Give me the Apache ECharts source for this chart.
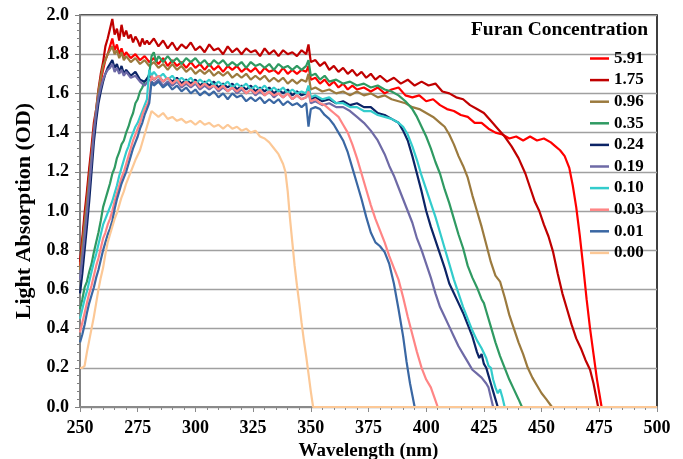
<!DOCTYPE html>
<html>
<head>
<meta charset="utf-8">
<script src="https://cdn.jsdelivr.net/npm/echarts@6/dist/echarts.min.js"></script>
<style>
  html, body { margin: 0; padding: 0; background: #fff; }
  #main { width: 683px; height: 459px; }
</style>
</head>
<body>
<div id="main"></div>
<script>
// legend labels, furan concentration
const concentrations = ['5.91', '1.75', '0.96', '0.35', '0.24', '0.19', '0.10', '0.03', '0.01', '0.00'];
const xTicks = [250, 275, 300, 325, 350, 375, 400, 425, 450, 475, 500];
const yTicks = [0, 0.2, 0.4, 0.6, 0.8, 1.0, 1.2, 1.4, 1.6, 1.8, 2.0];

// [wavelength nm, absorption OD]
const c591 = [[250,0.72],[251,0.84],[252,0.96],[253,1.07],[254,1.19],[255,1.30],[256,1.41],[257,1.50],[258,1.58],[259,1.66],[260,1.72],[261,1.77],[262,1.80],[263,1.84],[264,1.88],[265,1.82],[266,1.85],[267,1.80],[268,1.83],[269,1.79],[270,1.81],[272,1.78],[274,1.80],[276,1.77],[278,1.79],[280,1.76],[282,1.78],[284,1.75],[286,1.78],[288,1.74],[290,1.77],[292,1.74],[294,1.76],[296,1.73],[298,1.76],[300,1.73],[302,1.75],[304,1.72],[306,1.75],[308,1.72],[310,1.74],[312,1.71],[314,1.74],[316,1.72],[318,1.74],[320,1.71],[322,1.73],[324,1.71],[326,1.73],[328,1.70],[330,1.73],[332,1.71],[334,1.72],[336,1.70],[338,1.73],[340,1.70],[342,1.72],[344,1.70],[346,1.72],[348,1.71],[349,1.74],[350,1.67],[352,1.68],[354,1.65],[356,1.67],[358,1.64],[360,1.66],[362,1.63],[364,1.65],[366,1.62],[368,1.64],[370,1.62],[373,1.63],[376,1.61],[379,1.63],[382,1.60],[385,1.62],[388,1.63],[391,1.59],[394,1.58],[397,1.59],[400,1.56],[403,1.57],[406,1.54],[409,1.52],[412,1.51],[415,1.49],[418,1.48],[421,1.45],[424,1.45],[427,1.42],[430,1.40],[433,1.39],[436,1.37],[439,1.38],[442,1.36],[445,1.38],[448,1.36],[451,1.37],[454,1.35],[456,1.33],[458,1.31],[460,1.28],[462,1.22],[463.5,1.13],[465,1.02],[466.5,0.88],[468,0.72],[469.5,0.55],[471,0.40],[472.5,0.27],[474,0.14],[475,0.07],[476,0]];

const c175 = [[250,0.74],[251,0.86],[252,0.99],[253,1.10],[254,1.22],[255,1.33],[256,1.45],[257,1.52],[258,1.62],[259,1.70],[260,1.76],[261,1.84],[262,1.88],[263,1.93],[264,1.98],[265,1.90],[266,1.93],[267,1.87],[268,1.95],[269,1.89],[270,1.92],[271,1.88],[272,1.90],[273,1.86],[274,1.89],[275,1.87],[276,1.84],[277,1.88],[278,1.85],[279,1.87],[280,1.85],[282,1.88],[284,1.84],[286,1.87],[288,1.83],[290,1.86],[292,1.82],[294,1.85],[296,1.83],[298,1.86],[300,1.82],[302,1.84],[304,1.81],[306,1.85],[308,1.82],[310,1.83],[312,1.80],[314,1.84],[316,1.81],[318,1.83],[320,1.80],[322,1.83],[324,1.81],[326,1.82],[328,1.79],[330,1.83],[332,1.80],[334,1.82],[336,1.79],[338,1.82],[340,1.80],[342,1.81],[344,1.79],[346,1.82],[348,1.80],[349,1.85],[350,1.76],[352,1.77],[354,1.74],[356,1.76],[358,1.72],[360,1.74],[362,1.71],[364,1.73],[366,1.70],[368,1.72],[370,1.69],[372,1.71],[374,1.68],[376,1.70],[378,1.67],[380,1.69],[383,1.66],[386,1.68],[389,1.65],[392,1.67],[395,1.64],[398,1.66],[401,1.64],[404,1.65],[407,1.61],[410,1.60],[413,1.58],[416,1.57],[419,1.54],[422,1.52],[425,1.50],[428,1.46],[431,1.42],[434,1.38],[437,1.33],[440,1.27],[443,1.19],[445,1.12],[447,1.05],[449,1.00],[451,0.93],[453,0.87],[455,0.79],[457,0.68],[459,0.58],[461,0.50],[463,0.42],[465,0.35],[467,0.30],[469,0.24],[471,0.19],[472.5,0.12],[473.5,0.06],[474.5,0]];

const c096 = [[250,0.70],[251,0.82],[252,0.94],[253,1.05],[254,1.17],[255,1.29],[256,1.41],[257,1.52],[258,1.61],[259,1.68],[260,1.74],[261,1.77],[262,1.80],[263,1.82],[264,1.84],[265,1.80],[266,1.82],[267,1.78],[268,1.81],[269,1.77],[270,1.79],[272,1.76],[274,1.78],[276,1.75],[278,1.77],[280,1.74],[282,1.76],[284,1.73],[286,1.75],[288,1.72],[290,1.75],[292,1.72],[294,1.74],[296,1.71],[298,1.73],[300,1.70],[302,1.72],[304,1.70],[306,1.72],[308,1.69],[310,1.71],[312,1.69],[314,1.71],[316,1.68],[318,1.70],[320,1.68],[322,1.70],[324,1.67],[326,1.69],[328,1.67],[330,1.69],[332,1.66],[334,1.68],[336,1.66],[338,1.68],[340,1.65],[342,1.67],[344,1.65],[346,1.67],[348,1.66],[349,1.70],[350,1.62],[352,1.63],[355,1.61],[358,1.62],[361,1.60],[364,1.61],[367,1.59],[370,1.61],[373,1.59],[376,1.60],[379,1.58],[382,1.59],[385,1.57],[388,1.56],[391,1.55],[394,1.53],[397,1.52],[400,1.50],[403,1.48],[406,1.45],[408,1.43],[410,1.39],[412,1.34],[414,1.28],[416,1.23],[418,1.17],[420,1.08],[422,1.00],[424,0.92],[426,0.83],[428,0.74],[430,0.67],[432,0.64],[434,0.56],[436,0.47],[438,0.40],[440,0.33],[442,0.27],[444,0.20],[446,0.15],[448,0.11],[450,0.07],[452,0.04],[454.5,0]];

const c035 = [[250,0.50],[251,0.55],[252,0.61],[253,0.64],[254,0.69],[255,0.73],[256,0.79],[257,0.84],[258,0.89],[259,0.95],[260,1.02],[261,1.06],[262,1.10],[263,1.14],[264,1.19],[265,1.22],[266,1.27],[267,1.30],[268,1.34],[269,1.36],[270,1.40],[271,1.43],[272,1.47],[273,1.50],[274,1.55],[275,1.57],[276,1.61],[277,1.63],[278,1.66],[279,1.67],[280,1.70],[281,1.79],[282,1.81],[283,1.76],[284,1.79],[286,1.76],[288,1.79],[290,1.76],[292,1.78],[294,1.75],[296,1.78],[298,1.76],[300,1.78],[302,1.75],[304,1.77],[306,1.74],[308,1.77],[310,1.75],[312,1.77],[314,1.74],[316,1.76],[318,1.74],[320,1.76],[322,1.73],[324,1.76],[326,1.74],[328,1.75],[330,1.73],[332,1.75],[334,1.72],[336,1.75],[338,1.73],[340,1.74],[342,1.72],[344,1.74],[346,1.72],[348,1.74],[349,1.77],[350,1.69],[352,1.70],[354,1.67],[356,1.69],[358,1.66],[361,1.67],[364,1.65],[367,1.66],[370,1.64],[373,1.65],[376,1.63],[379,1.64],[382,1.62],[385,1.61],[388,1.59],[391,1.56],[394,1.52],[396,1.48],[398,1.43],[400,1.38],[402,1.32],[404,1.25],[406,1.19],[408,1.11],[410,1.04],[412,0.96],[414,0.88],[416,0.81],[418,0.72],[420,0.66],[422,0.61],[424,0.55],[425,0.53],[426,0.49],[428,0.41],[430,0.33],[432,0.26],[434,0.20],[436,0.14],[438,0.09],[440,0.04],[441.5,0]];

const c024 = [[250,0.58],[251,0.68],[252,0.80],[253,0.92],[254,1.05],[255,1.20],[256,1.35],[257,1.46],[258,1.55],[259,1.61],[260,1.66],[261,1.70],[262,1.73],[263,1.75],[264,1.77],[265,1.73],[266,1.75],[267,1.71],[268,1.74],[269,1.70],[270,1.72],[272,1.69],[274,1.71],[276,1.67],[278,1.66],[280,1.69],[282,1.67],[284,1.69],[286,1.66],[288,1.68],[290,1.66],[292,1.68],[294,1.65],[296,1.67],[298,1.65],[300,1.67],[302,1.64],[304,1.66],[306,1.64],[308,1.66],[310,1.63],[312,1.65],[314,1.63],[316,1.65],[318,1.62],[320,1.64],[322,1.62],[324,1.64],[326,1.61],[328,1.63],[330,1.61],[332,1.63],[334,1.60],[336,1.62],[338,1.60],[340,1.62],[342,1.59],[344,1.61],[346,1.59],[348,1.60],[349,1.63],[350,1.57],[352,1.58],[355,1.56],[358,1.57],[361,1.55],[364,1.56],[367,1.54],[370,1.55],[373,1.53],[376,1.53],[379,1.50],[382,1.49],[385,1.47],[388,1.45],[390,1.41],[392,1.36],[394,1.28],[396,1.19],[398,1.10],[400,1.00],[402,0.92],[404,0.85],[406,0.78],[408,0.71],[410,0.63],[412,0.58],[414,0.53],[416,0.48],[418,0.42],[420,0.36],[422,0.28],[423,0.25],[424,0.27],[425,0.22],[426,0.20],[427,0.16],[428,0.12],[429,0.08],[430,0.04],[431,0]];

const c019 = [[250,0.65],[251,0.76],[252,0.87],[253,0.99],[254,1.12],[255,1.26],[256,1.40],[257,1.50],[258,1.58],[259,1.63],[260,1.67],[261,1.70],[262,1.72],[263,1.73],[264,1.75],[265,1.71],[266,1.73],[267,1.70],[268,1.72],[269,1.69],[270,1.71],[272,1.68],[274,1.69],[276,1.66],[278,1.64],[280,1.67],[282,1.65],[284,1.67],[286,1.64],[288,1.66],[290,1.64],[292,1.66],[294,1.63],[296,1.65],[298,1.63],[300,1.65],[302,1.62],[304,1.64],[306,1.62],[308,1.64],[310,1.61],[312,1.63],[314,1.61],[316,1.63],[318,1.60],[320,1.62],[322,1.60],[324,1.62],[326,1.59],[328,1.61],[330,1.59],[332,1.61],[334,1.58],[336,1.60],[338,1.58],[340,1.60],[342,1.57],[344,1.59],[346,1.57],[348,1.58],[349,1.61],[350,1.55],[352,1.56],[355,1.54],[358,1.55],[361,1.53],[364,1.53],[367,1.51],[370,1.48],[373,1.45],[376,1.41],[379,1.36],[382,1.29],[384,1.23],[386,1.18],[388,1.12],[390,1.06],[392,1.00],[394,0.94],[396,0.86],[398,0.80],[400,0.73],[402,0.66],[404,0.58],[406,0.51],[408,0.46],[410,0.41],[412,0.36],[414,0.31],[416,0.27],[418,0.23],[420,0.19],[422,0.17],[424,0.15],[426,0.12],[427,0.10],[428,0.05],[429,0]];

const c010 = [[250,0.45],[251,0.50],[252,0.55],[253,0.59],[254,0.64],[255,0.69],[256,0.74],[257,0.78],[258,0.83],[259,0.88],[260,0.93],[261,0.96],[262,0.99],[263,1.02],[264,1.05],[265,1.09],[266,1.13],[267,1.18],[268,1.22],[269,1.26],[270,1.30],[271,1.33],[272,1.37],[273,1.40],[274,1.43],[275,1.45],[276,1.48],[277,1.51],[278,1.54],[279,1.57],[280,1.72],[281,1.69],[282,1.71],[284,1.68],[286,1.70],[288,1.67],[290,1.69],[292,1.66],[294,1.68],[296,1.66],[298,1.68],[300,1.65],[302,1.67],[304,1.65],[306,1.67],[308,1.64],[310,1.66],[312,1.64],[314,1.66],[316,1.63],[318,1.65],[320,1.63],[322,1.65],[324,1.62],[326,1.64],[328,1.62],[330,1.64],[332,1.61],[334,1.63],[336,1.61],[338,1.63],[340,1.60],[342,1.62],[344,1.60],[346,1.61],[348,1.60],[349,1.64],[350,1.58],[352,1.59],[355,1.57],[358,1.58],[361,1.55],[364,1.55],[367,1.53],[370,1.53],[373,1.51],[376,1.51],[379,1.49],[382,1.48],[385,1.47],[388,1.45],[390,1.43],[392,1.39],[394,1.33],[396,1.26],[398,1.18],[400,1.11],[402,1.04],[404,0.97],[406,0.89],[408,0.81],[410,0.73],[412,0.65],[414,0.58],[416,0.51],[418,0.45],[420,0.39],[422,0.34],[424,0.30],[426,0.25],[427,0.21],[428,0.20],[429,0.14],[430,0.10],[431,0.07],[432,0.09],[433,0.05],[434,0]];

const c003 = [[250,0.38],[251,0.43],[252,0.48],[253,0.53],[254,0.58],[255,0.62],[256,0.67],[257,0.72],[258,0.76],[259,0.81],[260,0.86],[261,0.89],[262,0.93],[263,0.96],[264,1.00],[265,1.05],[266,1.09],[267,1.13],[268,1.17],[269,1.20],[270,1.24],[271,1.28],[272,1.32],[273,1.36],[274,1.39],[275,1.42],[276,1.45],[277,1.49],[278,1.52],[279,1.54],[280,1.57],[281,1.69],[282,1.67],[284,1.69],[286,1.66],[288,1.68],[290,1.65],[292,1.67],[294,1.64],[296,1.66],[298,1.64],[300,1.66],[302,1.63],[304,1.65],[306,1.63],[308,1.64],[310,1.62],[312,1.64],[314,1.61],[316,1.63],[318,1.61],[320,1.63],[322,1.60],[324,1.62],[326,1.60],[328,1.62],[330,1.59],[332,1.61],[334,1.59],[336,1.60],[338,1.58],[340,1.60],[342,1.57],[344,1.59],[346,1.57],[348,1.58],[349,1.61],[350,1.56],[352,1.57],[354,1.55],[356,1.54],[358,1.52],[360,1.50],[362,1.48],[364,1.44],[366,1.40],[368,1.34],[370,1.27],[372,1.19],[374,1.11],[376,1.03],[378,0.96],[380,0.90],[382,0.84],[384,0.77],[386,0.71],[388,0.65],[390,0.56],[392,0.46],[394,0.37],[396,0.28],[398,0.20],[400,0.14],[402,0.10],[403.5,0.05],[405,0]];

const c001 = [[250,0.33],[251,0.37],[252,0.42],[253,0.48],[254,0.53],[255,0.57],[256,0.61],[257,0.66],[258,0.70],[259,0.75],[260,0.80],[261,0.84],[262,0.88],[263,0.91],[264,0.95],[265,1.01],[266,1.06],[267,1.10],[268,1.14],[269,1.17],[270,1.20],[271,1.24],[272,1.28],[273,1.32],[274,1.35],[275,1.38],[276,1.42],[277,1.45],[278,1.49],[279,1.52],[280,1.55],[281,1.66],[282,1.64],[284,1.66],[286,1.63],[288,1.65],[290,1.62],[292,1.64],[294,1.61],[296,1.63],[298,1.60],[300,1.62],[302,1.59],[304,1.61],[306,1.59],[308,1.61],[310,1.58],[312,1.60],[314,1.57],[316,1.60],[318,1.58],[320,1.59],[322,1.56],[324,1.58],[326,1.56],[328,1.58],[330,1.55],[332,1.57],[334,1.55],[336,1.57],[338,1.54],[340,1.56],[342,1.54],[344,1.55],[346,1.53],[348,1.55],[349,1.43],[350,1.52],[352,1.53],[354,1.52],[356,1.49],[358,1.47],[360,1.44],[362,1.40],[364,1.36],[366,1.30],[368,1.22],[370,1.14],[372,1.06],[374,0.97],[376,0.89],[378,0.84],[380,0.82],[382,0.79],[384,0.73],[386,0.63],[388,0.50],[390,0.36],[391.5,0.23],[393,0.12],[394,0.06],[395,0]];

const c000 = [[250,0.20],[251,0.20],[252,0.21],[253,0.28],[254,0.34],[255,0.40],[256,0.46],[257,0.53],[258,0.60],[259,0.66],[260,0.71],[261,0.78],[262,0.84],[263,0.88],[264,0.92],[265,0.96],[266,0.99],[267,1.03],[268,1.07],[269,1.10],[270,1.14],[272,1.20],[274,1.26],[276,1.31],[278,1.39],[280,1.47],[281,1.51],[282,1.50],[284,1.48],[286,1.50],[288,1.47],[290,1.48],[292,1.46],[294,1.47],[296,1.45],[298,1.46],[300,1.44],[302,1.46],[304,1.44],[306,1.45],[308,1.43],[310,1.44],[312,1.42],[314,1.44],[316,1.42],[318,1.43],[320,1.41],[322,1.42],[324,1.40],[326,1.41],[328,1.38],[330,1.37],[332,1.35],[334,1.32],[336,1.29],[338,1.24],[339,1.20],[340,1.10],[341,0.96],[342,0.84],[343,0.72],[344,0.62],[345,0.53],[346,0.43],[347,0.34],[348,0.26],[349,0.17],[350,0.08],[351,0],[500,0]];

const spectra = [c591, c175, c096, c035, c024, c019, c010, c003, c001, c000];
const colors = ['#ff0000', '#c00000', '#9b7a3e', '#2f9a62', '#0c2466', '#6e6aa6', '#33cccc', '#ff8585', '#3a67a3', '#fcc896'];

const font = 'Liberation Serif';
var myChart = echarts.init(document.getElementById('main'));

var option = {
  animation: false,
  title: {
    text: 'Furan Concentration',
    right: 35,
    top: 20,
    padding: 0,
    textStyle: { fontFamily: font, fontWeight: 'bold', fontSize: 19.5, color: '#000' }
  },
  legend: {
    orient: 'vertical',
    left: 590,
    top: 50,
    padding: 0,
    icon: 'rect',
    itemWidth: 19,
    itemHeight: 2.5,
    itemGap: 4.6,
    textStyle: { fontFamily: font, fontWeight: 'bold', fontSize: 17, color: '#000' },
    data: concentrations
  },
  grid: {
    left: 80, right: 26, top: 15, bottom: 52,
    outerBoundsMode: 'none',
    show: true, borderColor: '#000', borderWidth: 1.5, backgroundColor: '#fff'
  },
  xAxis: {
    type: 'value',
    min: 250, max: 500, interval: 25,
    name: 'Wavelength (nm)',
    nameLocation: 'middle',
    nameGap: 34,
    nameTextStyle: { fontFamily: font, fontWeight: 'bold', fontSize: 19, color: '#000' },
    axisLine: { lineStyle: { color: '#8a8a8a', width: 2 } },
    axisTick: { length: 5, lineStyle: { color: '#8a8a8a' } },
    minorTick: { show: true, splitNumber: 5, length: 3, lineStyle: { color: '#8a8a8a' } },
    splitLine: { show: false },
    axisLabel: {
      margin: 12,
      fontFamily: font, fontWeight: 'bold', fontSize: 18, color: '#000',
      formatter: v => xTicks.includes(v) ? String(v) : ''
    }
  },
  yAxis: {
    type: 'value',
    min: 0, max: 2, interval: 0.2,
    name: 'Light Absorption (OD)',
    nameLocation: 'middle',
    nameGap: 42,
    nameTextStyle: { fontFamily: font, fontWeight: 'bold', fontSize: 22, color: '#000' },
    axisLine: { show: true, lineStyle: { color: '#808080', width: 2 } },
    axisTick: { show: true, length: 5, lineStyle: { color: '#808080' } },
    minorTick: { show: true, splitNumber: 5, length: 3, lineStyle: { color: '#808080' } },
    splitLine: { lineStyle: { color: '#a0a0a0', width: 1.3 } },
    axisLabel: {
      margin: 11,
      fontFamily: font, fontWeight: 'bold', fontSize: 18, color: '#000',
      formatter: v => yTicks.some(t => Math.abs(t - v) < 1e-6) ? v.toFixed(1) : ''
    }
  },
  series: concentrations.map((name, i) => ({
    name: name,
    type: 'line',
    data: spectra[i],
    symbol: 'none',
    smooth: false,
    color: colors[i],
    lineStyle: { width: 2.2, color: colors[i] },
    z: 2 + i
  }))
};

myChart.setOption(option);
</script>
</body>
</html>
